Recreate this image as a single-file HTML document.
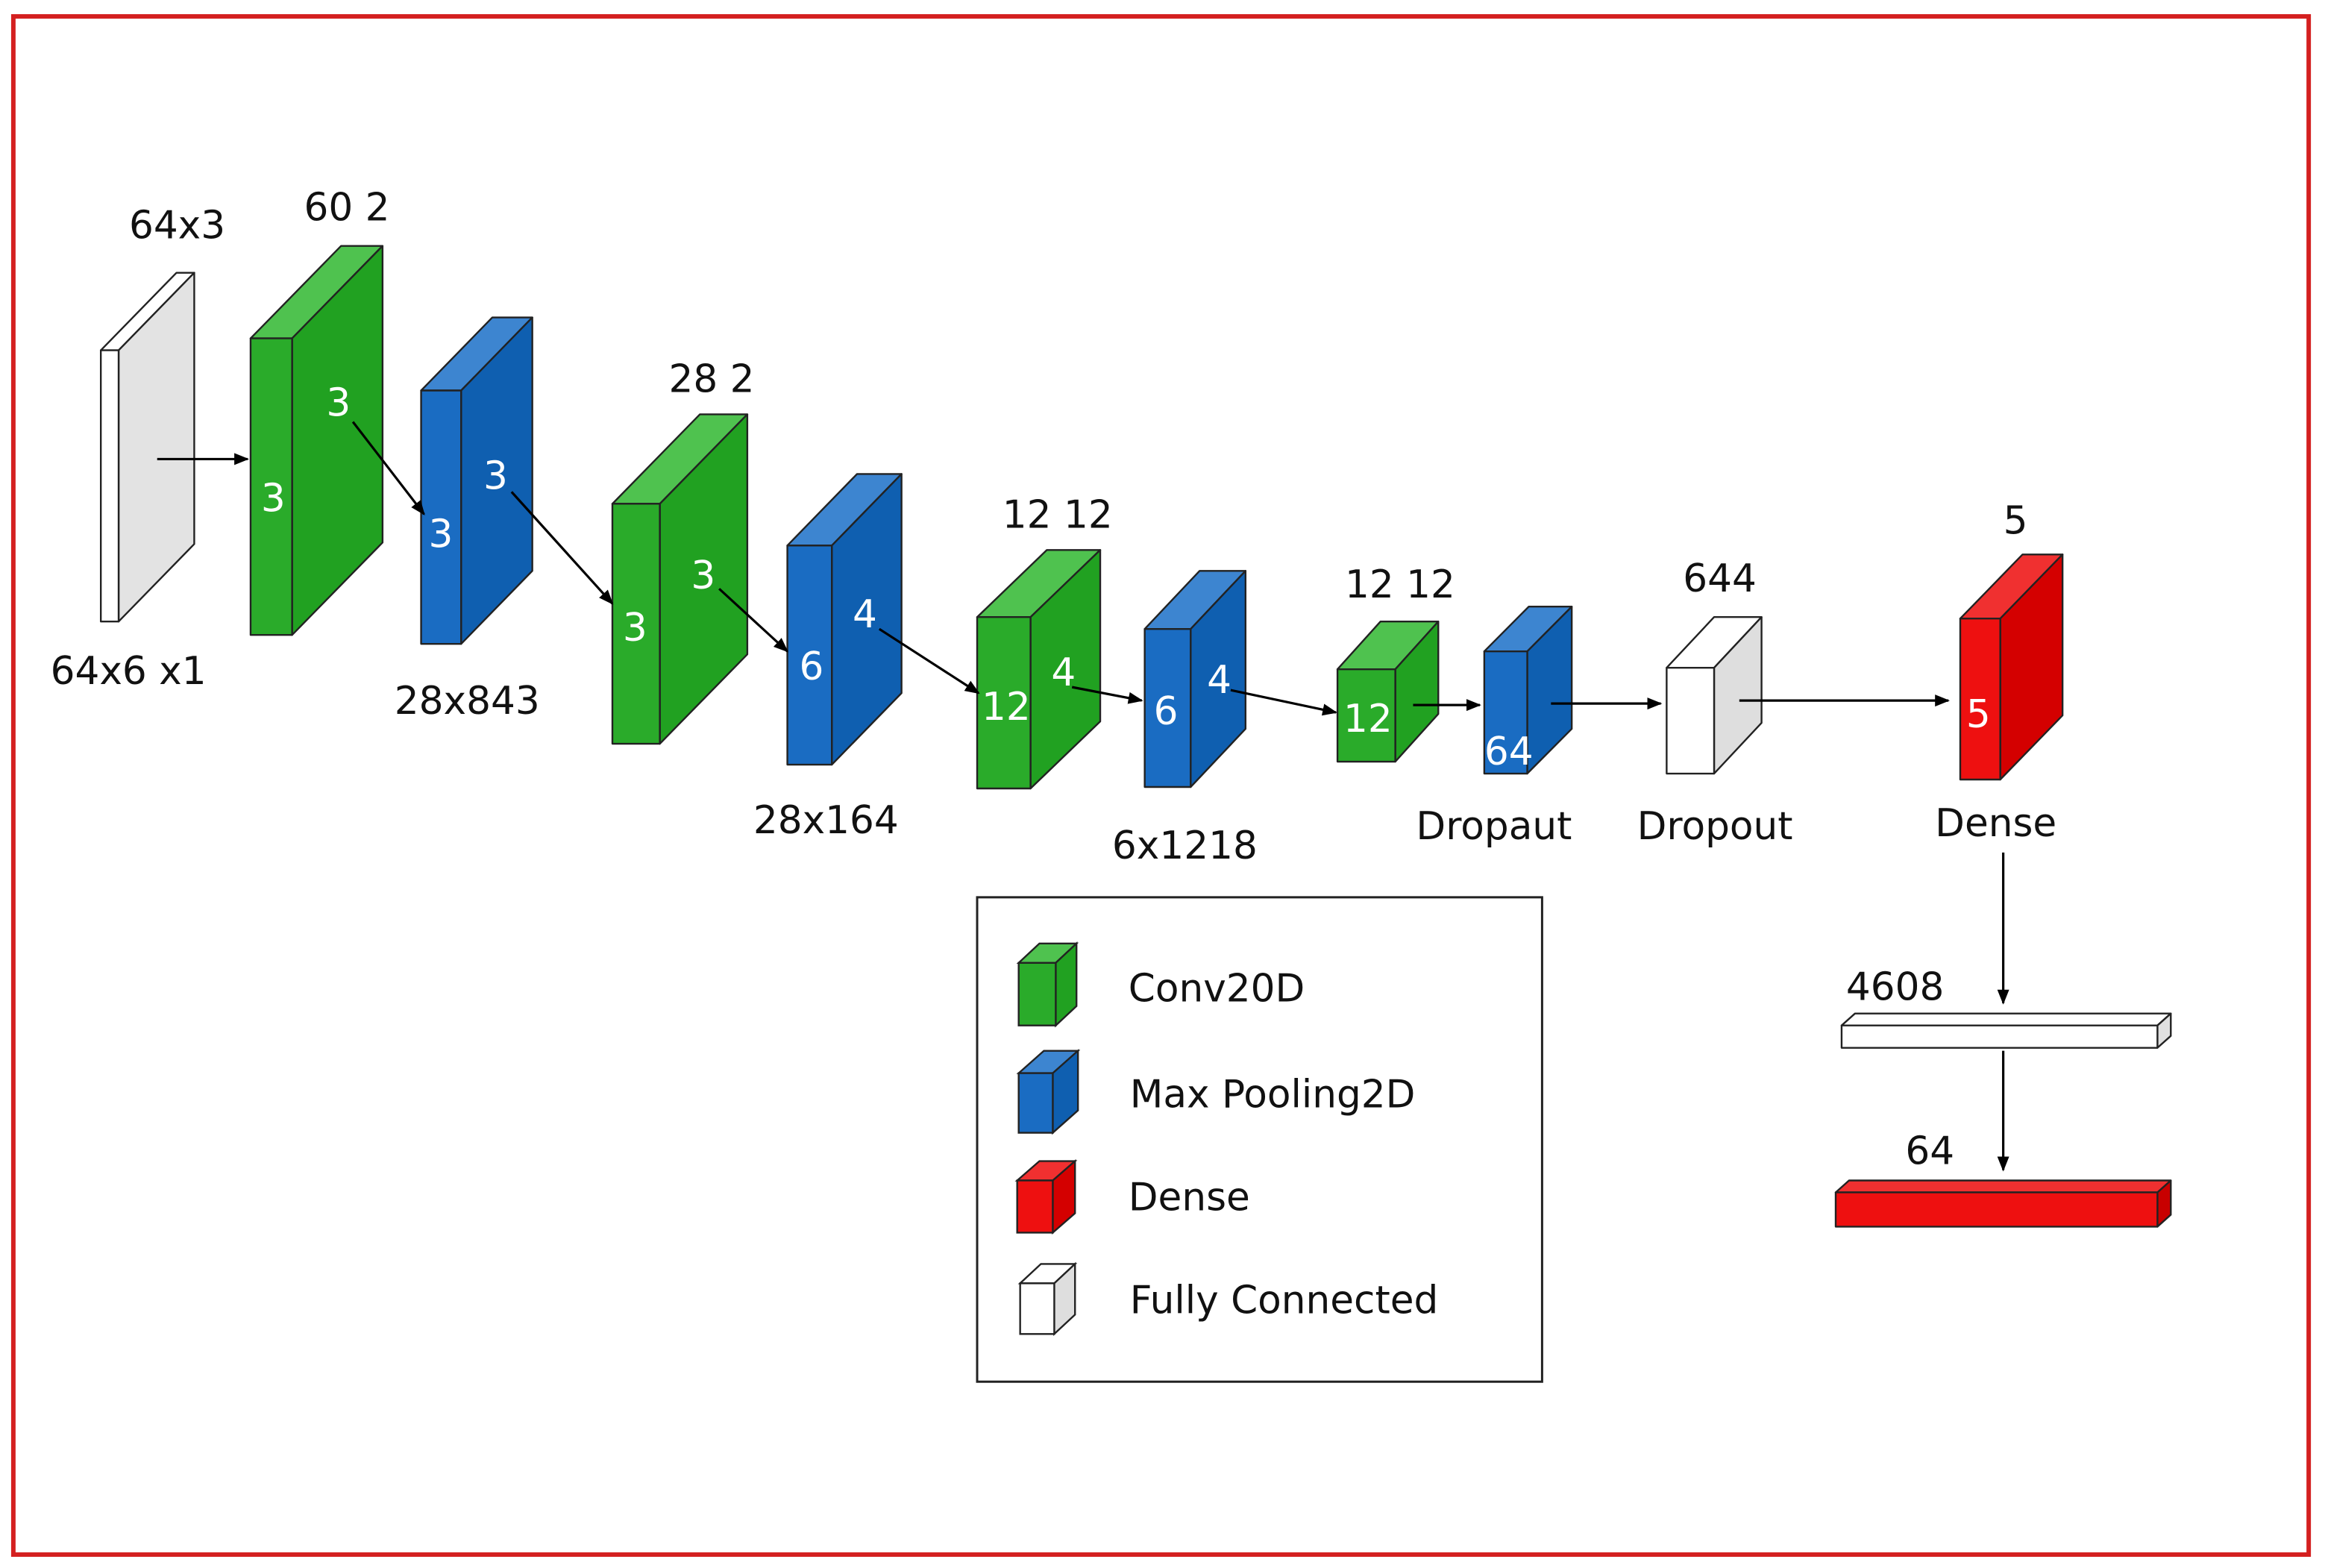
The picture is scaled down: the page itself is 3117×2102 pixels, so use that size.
<!DOCTYPE html>
<html><head><meta charset="utf-8"><style>
html,body{margin:0;padding:0;background:#fff;}
svg{display:block;}
text{font-family:"DejaVu Sans","Liberation Sans",sans-serif;}
</style></head><body>
<svg width="3117" height="2102" viewBox="0 0 1568 1052" preserveAspectRatio="none" xmlns="http://www.w3.org/2000/svg">
<defs>
<marker id="ah" markerWidth="10" markerHeight="10" refX="9" refY="5" orient="auto" markerUnits="userSpaceOnUse">
<path d="M0,1 L10,5 L0,9 z" fill="#000"/></marker>
</defs>
<rect x="0" y="0" width="1568" height="1052" fill="#fff"/>
<rect x="9" y="11" width="1548" height="1032" fill="none" stroke="#d42020" stroke-width="3"/>

<g stroke="#222" stroke-width="1.2" stroke-linejoin="round">
<polygon points="68,235 80,235 131,183 119,183" fill="#fff"/>
<polygon points="80,235 131,183 131,365 80,417" fill="#e3e3e3"/>
<rect x="68" y="235" width="12" height="182" fill="#fff"/>
<polygon points="169,227 197,227 258,165 230,165" fill="#4fc24f"/>
<polygon points="197,227 258,165 258,364 197,426" fill="#21a121"/>
<rect x="169" y="227" width="28" height="199" fill="#2aab2a"/>
<polygon points="284,262 311,262 359,213 332,213" fill="#3d85d0"/>
<polygon points="311,262 359,213 359,383 311,432" fill="#0f5fb0"/>
<rect x="284" y="262" width="27" height="170" fill="#1a6cc2"/>
<polygon points="413,338 445,338 504,278 472,278" fill="#4fc24f"/>
<polygon points="445,338 504,278 504,439 445,499" fill="#21a121"/>
<rect x="413" y="338" width="32" height="161" fill="#2aab2a"/>
<polygon points="531,366 561,366 608,318 578,318" fill="#3d85d0"/>
<polygon points="561,366 608,318 608,465 561,513" fill="#0f5fb0"/>
<rect x="531" y="366" width="30" height="147" fill="#1a6cc2"/>
<polygon points="659,414 695,414 742,369 706,369" fill="#4fc24f"/>
<polygon points="695,414 742,369 742,484 695,529" fill="#21a121"/>
<rect x="659" y="414" width="36" height="115" fill="#2aab2a"/>
<polygon points="772,422 803,422 840,383 809,383" fill="#3d85d0"/>
<polygon points="803,422 840,383 840,489 803,528" fill="#0f5fb0"/>
<rect x="772" y="422" width="31" height="106" fill="#1a6cc2"/>
<polygon points="902,449 941,449 970,417 931,417" fill="#4fc24f"/>
<polygon points="941,449 970,417 970,479 941,511" fill="#21a121"/>
<rect x="902" y="449" width="39" height="62" fill="#2aab2a"/>
<polygon points="1001,437 1030,437 1060,407 1031,407" fill="#3d85d0"/>
<polygon points="1030,437 1060,407 1060,489 1030,519" fill="#0f5fb0"/>
<rect x="1001" y="437" width="29" height="82" fill="#1a6cc2"/>
<polygon points="1124,448 1156,448 1188,414 1156,414" fill="#fff"/>
<polygon points="1156,448 1188,414 1188,485 1156,519" fill="#dedede"/>
<rect x="1124" y="448" width="32" height="71" fill="#fff"/>
<polygon points="1322,415 1349,415 1391,372 1364,372" fill="#f03030"/>
<polygon points="1349,415 1391,372 1391,480 1349,523" fill="#d40000"/>
<rect x="1322" y="415" width="27" height="108" fill="#ee1010"/>
<polygon points="1242,688 1455,688 1464,680 1251,680" fill="#fff"/>
<polygon points="1455,688 1464,680 1464,695 1455,703" fill="#e0e0e0"/>
<rect x="1242" y="688" width="213" height="15" fill="#fff"/>
<polygon points="1238,800 1455,800 1464,792 1247,792" fill="#f03030"/>
<polygon points="1455,800 1464,792 1464,815 1455,823" fill="#c80000"/>
<rect x="1238" y="800" width="217" height="23" fill="#ee1010"/>
</g>

<rect x="659" y="602" width="381" height="325" fill="none" stroke="#222" stroke-width="1.5"/>
<g stroke="#222" stroke-width="1.2">
<polygon points="687,646 712,646 726,633 701,633" fill="#4fc24f"/>
<polygon points="712,646 726,633 726,675 712,688" fill="#21a121"/>
<rect x="687" y="646" width="25" height="42" fill="#2aab2a"/>
<polygon points="687,720 710,720 727,705 704,705" fill="#3d85d0"/>
<polygon points="710,720 727,705 727,745 710,760" fill="#0f5fb0"/>
<rect x="687" y="720" width="23" height="40" fill="#1a6cc2"/>
<polygon points="686,792 710,792 725,779 701,779" fill="#f03030"/>
<polygon points="710,792 725,779 725,814 710,827" fill="#d40000"/>
<rect x="686" y="792" width="24" height="35" fill="#ee1010"/>
<polygon points="688,861 711,861 725,848 702,848" fill="#fff"/>
<polygon points="711,861 725,848 725,882 711,895" fill="#dedede"/>
<rect x="688" y="861" width="23" height="34" fill="#fff"/>
</g>

<g stroke="#000" stroke-width="1.6" fill="none" marker-end="url(#ah)">
<line x1="106" y1="308" x2="167" y2="308"/>
<line x1="238" y1="283" x2="286" y2="345"/>
<line x1="345" y1="330" x2="413" y2="405"/>
<line x1="485" y1="395" x2="531" y2="437"/>
<line x1="593" y1="422" x2="660" y2="465"/>
<line x1="723" y1="461" x2="770" y2="470"/>
<line x1="830" y1="463" x2="901" y2="478"/>
<line x1="953" y1="473" x2="998" y2="473"/>
<line x1="1046" y1="472" x2="1120" y2="472"/>
<line x1="1173" y1="470" x2="1314" y2="470"/>
<line x1="1351" y1="572" x2="1351" y2="673"/>
<line x1="1351" y1="705" x2="1351" y2="785"/>
</g>

<g font-size="26" fill="#111">
<text x="87" y="160">64x3</text>
<text x="205" y="148">60 2</text>
<text x="34" y="459">64x6 x1</text>
<text x="266" y="479">28x843</text>
<text x="451" y="263">28 2</text>
<text x="508" y="559">28x164</text>
<text x="676" y="354">12 12</text>
<text x="750" y="576">6x1218</text>
<text x="907" y="401">12 12</text>
<text x="955" y="563">Dropaut</text>
<text x="1135" y="397">644</text>
<text x="1104" y="563">Dropout</text>
<text x="1351" y="358">5</text>
<text x="1305" y="561">Dense</text>
<text x="1245" y="671">4608</text>
<text x="1285" y="781">64</text>
<text x="761" y="672">Conv20D</text>
<text x="762" y="743">Max Pooling2D</text>
<text x="761" y="812">Dense</text>
<text x="762" y="881">Fully Connected</text>
</g>
<g font-size="26" fill="#fff">
<text x="176" y="343">3</text>
<text x="220" y="279">3</text>
<text x="289" y="367">3</text>
<text x="326" y="328">3</text>
<text x="420" y="430">3</text>
<text x="466" y="395">3</text>
<text x="539" y="456">6</text>
<text x="575" y="421">4</text>
<text x="662" y="483">12</text>
<text x="709" y="460">4</text>
<text x="778" y="486">6</text>
<text x="814" y="465">4</text>
<text x="906" y="491">12</text>
<text x="1001" y="513">64</text>
<text x="1326" y="488">5</text>
</g>
</svg>
</body></html>
